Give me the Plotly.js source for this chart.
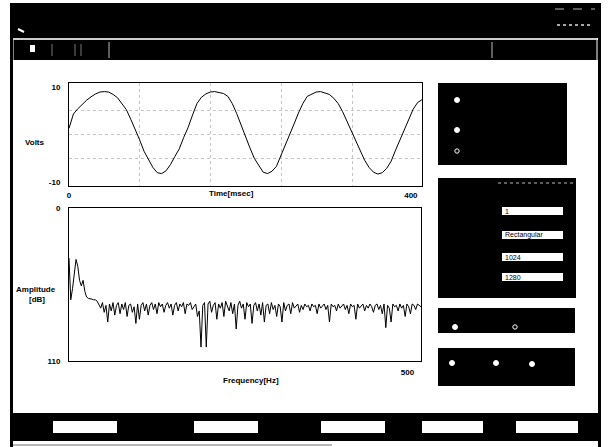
<!DOCTYPE html>
<html>
<head>
<meta charset="utf-8">
<script src="https://cdn.plot.ly/plotly-3.0.1.min.js"></script>
<style>
  html, body { margin: 0; padding: 0; background: #ffffff; }
  #chart { width: 609px; height: 447px; }
</style>
</head>
<body>
<div id="chart"></div>
<script>
// ---------- data ----------
// time signal (Volts), one sample every timeStepMs
const timeStepMs = 5.1625;
const volts = [
  1.3, 4.3, 5.4, 6.4, 7.2, 7.9, 8.5, 8.9, 9.0, 8.9,
  8.4, 7.7, 6.5, 5.2, 3.2, 1.1, -1.1, -3.5, -5.3, -6.9,
  -8.0, -8.2, -7.6, -6.3, -4.6, -3.0, -0.6, 1.5, 4.1, 6.5,
  7.8, 8.5, 8.9, 9.0, 8.8, 8.6, 8.0, 6.5, 4.4, 1.9,
  -0.6, -2.8, -5.0, -6.6, -7.9, -8.2, -7.7, -6.7, -4.5, -2.6,
  -0.4, 2.2, 4.5, 6.5, 8.0, 8.5, 8.9, 9.0, 8.7, 8.4,
  7.6, 6.5, 4.8, 2.8, 0.9, -1.3, -3.2, -5.4, -6.9, -7.9,
  -8.3, -8.0, -7.1, -5.6, -3.3, -1.2, 1.1, 3.2, 5.3, 6.7,
  7.3
];
const timeTicks = [0, 400];
const voltTicks = [-10, 10];
const voltTickText = ['-10', '10'];

// spectrum (Amplitude dB), one bin every binHz
const binHz = 2.6;
const amplitudeDb = [
  36, 66, 58, 45, 37, 42, 52, 56, 52, 60,
  64, 65, 65, 65.5, 66, 66, 67, 69, 72, 68,
  75, 70, 82, 69, 74, 68, 77, 70, 68, 76,
  69, 73, 68, 78, 70, 69, 75, 71, 83, 69,
  80, 70, 68, 74, 69, 77, 70, 68, 73, 69,
  76, 68, 71, 69, 75, 70, 68, 72, 69, 77,
  70, 68, 74, 69, 71, 68, 76, 69, 70, 68,
  73, 71, 69, 78, 74, 100, 70, 68, 100, 69,
  67, 75, 70, 68, 80, 69, 72, 68, 78, 67,
  70, 74, 68, 76, 69, 87, 70, 67, 72, 69,
  80, 68, 71, 69, 83, 70, 68, 74, 69, 77,
  68, 82, 70, 69, 76, 68, 73, 70, 78, 69,
  71, 82, 68, 74, 70, 69, 76, 68, 72, 70,
  69, 75, 70, 73, 69, 71, 70, 74, 69, 71,
  70, 76, 69, 72, 70, 69, 73, 70, 82, 69,
  71, 70, 74, 69, 72, 70, 69, 73, 70, 76,
  69, 71, 70, 80, 69, 72, 70, 69, 74, 70,
  72, 69, 71, 75, 70, 69, 73, 70, 76, 69,
  86, 70, 72, 82, 69, 71, 70, 74, 69, 72,
  70, 78, 69, 71, 76, 69, 70, 73, 69, 70,
  71
];
const freqTicks = [500];
const dbTicks = [0, 110];

// front-panel control values
const controlValues = ['1', 'Rectangular', '1024', '1280'];

// ---------- build ----------
const timeMs = volts.map((_, i) => i * timeStepMs);
const freqHz = amplitudeDb.map((_, i) => i * binHz);

const W = 609, H = 447;
const X = p => p / W;
const Y = p => 1 - p / H;

const traces = [
  { x: timeMs, y: volts, type: 'scatter', mode: 'lines',
    line: { color: '#000000', width: 1 }, xaxis: 'x', yaxis: 'y', hoverinfo: 'skip' },
  { x: freqHz, y: amplitudeDb, type: 'scatter', mode: 'lines',
    line: { color: '#000000', width: 1 }, xaxis: 'x2', yaxis: 'y2', hoverinfo: 'skip' }
];

const tickFont = { family: 'Liberation Sans, Arial, sans-serif', size: 8, color: '#000000', weight: 'bold' };

const shapes = [];
function rect(x0, y0, x1, y1, fill, line) {
  shapes.push({ type: 'rect', xref: 'paper', yref: 'paper',
    x0: X(x0), x1: X(x1), y0: Y(y1), y1: Y(y0),
    fillcolor: fill, line: line || { width: 0 } });
}
function seg(x0, y0, x1, y1, color, width, dash) {
  shapes.push({ type: 'line', xref: 'paper', yref: 'paper',
    x0: X(x0), x1: X(x1), y0: Y(y0), y1: Y(y1),
    line: { color: color, width: width || 1, dash: dash || 'solid' } });
}
function dot(cx, cy, r, fill, lineColor) {
  shapes.push({ type: 'circle', xref: 'paper', yref: 'paper',
    x0: X(cx - r), x1: X(cx + r), y0: Y(cy + r), y1: Y(cy - r),
    fillcolor: fill, line: { color: lineColor || fill, width: 1 } });
}

// window frame
rect(10, 3, 601, 38, '#000');          // title bar
rect(10, 40, 601, 60, '#000');         // toolbar
seg(13, 39, 597, 39, '#bdbdbd', 1.5);
seg(13, 40, 13, 60, '#ffffff', 1);
seg(597, 40, 597, 60, '#ffffff', 1);
seg(492, 42, 492, 58, '#bdbdbd', 1);
seg(109, 42, 109, 58, '#bdbdbd', 1);
seg(52, 44, 52, 56, '#777', 1);
seg(75, 44, 75, 56, '#777', 1);
seg(81, 44, 81, 56, '#777', 1);
rect(30, 45, 35, 52, '#fff');
seg(18, 29, 24, 32, '#fff', 2);
seg(555, 9, 595, 9, '#bbb', 1, 'dash');
seg(557, 25, 590, 25, '#ddd', 1.5, 'dot');
rect(10, 3, 13, 447, '#000');          // left border
rect(598, 3, 601, 447, '#000');        // right border
rect(10, 413, 601, 441, '#000');       // bottom button band
[[53, 117], [194, 258], [321, 385], [422, 483], [516, 578]].forEach(b => rect(b[0], 421, b[1], 433, '#fff'));
seg(13, 445, 332, 445, '#9e9e9e', 1.5);

// right-hand control panels
rect(438, 83, 567, 165, '#000');
dot(457, 100, 2.5, '#fff');
dot(457, 130, 2.5, '#fff');
dot(457, 151, 2.2, '#000', '#fff');
rect(438, 178, 576, 298, '#000');
seg(498, 183, 575, 183, '#bbb', 1, 'dot');
const boxTops = [207, 231, 253, 273];
boxTops.forEach(t => rect(502, t, 563, t + 8, '#fff'));
rect(438, 308, 575, 333, '#000');
dot(455, 327, 2.5, '#fff');
dot(515, 327, 2.2, '#000', '#fff');
rect(438, 348, 575, 386, '#000');
dot(452, 363, 2.5, '#fff');
dot(496, 363, 2.5, '#fff');
dot(532, 364, 2.5, '#fff');

const annFont = { family: 'Liberation Sans, Arial, sans-serif', size: 8, color: '#000000', weight: 'bold' };
const annotations = [
  { text: 'Volts', x: X(35), y: Y(142) },
  { text: 'Time[msec]', x: X(231), y: Y(193) },
  { text: 'Amplitude', x: X(36), y: Y(289) },
  { text: '[dB]', x: X(37), y: Y(299) },
  { text: 'Frequency[Hz]', x: X(251), y: Y(380) }
].map(a => Object.assign({ xref: 'paper', yref: 'paper', showarrow: false,
  xanchor: 'center', yanchor: 'middle', font: annFont }, a));
controlValues.forEach((v, i) => annotations.push({
  text: v, xref: 'paper', yref: 'paper', x: X(503), y: Y(boxTops[i] + 4),
  xanchor: 'left', yanchor: 'middle', showarrow: false,
  font: { family: 'Liberation Sans, Arial, sans-serif', size: 7, color: '#000000' }
}));

const gridCol = '#c4c4c4';
const layout = {
  width: W, height: H,
  margin: { l: 0, r: 0, t: 0, b: 0 },
  paper_bgcolor: '#ffffff', plot_bgcolor: '#ffffff',
  showlegend: false,
  xaxis: {
    domain: [X(69), X(422)], anchor: 'y', range: [0, 413],
    tickvals: timeTicks, ticks: '', tickfont: tickFont, ticklabelstandoff: 1,
    showgrid: false, zeroline: false,
    showline: true, linecolor: '#000', linewidth: 1, mirror: true,
    minor: { tick0: 0, dtick: 83, showgrid: true, gridcolor: gridCol, griddash: 'dot', gridwidth: 1, ticks: '' }
  },
  yaxis: {
    domain: [Y(186), Y(83)], anchor: 'x', range: [-10.8, 10.8],
    tickvals: voltTicks, ticktext: voltTickText, ticks: '', tickfont: tickFont, ticklabelstandoff: 6,
    showgrid: false, zeroline: false,
    showline: true, linecolor: '#000', linewidth: 1, mirror: true,
    minor: { tickvals: [-5, 0, 5], showgrid: true, gridcolor: gridCol, griddash: 'dot', gridwidth: 1, ticks: '' }
  },
  xaxis2: {
    domain: [X(69), X(421)], anchor: 'y2', range: [0, 520],
    tickvals: freqTicks, ticks: '', tickfont: tickFont, ticklabelstandoff: 3,
    showgrid: false, zeroline: false,
    showline: true, linecolor: '#000', linewidth: 1, mirror: true
  },
  yaxis2: {
    domain: [Y(361), Y(208)], anchor: 'x2', range: [110, 0],
    tickvals: dbTicks, ticks: '', tickfont: tickFont, ticklabelstandoff: 6,
    showgrid: false, zeroline: false,
    showline: true, linecolor: '#000', linewidth: 1, mirror: true
  },
  shapes: shapes,
  annotations: annotations
};

Plotly.newPlot('chart', traces, layout, { staticPlot: true, displayModeBar: false });
</script>
</body>
</html>
